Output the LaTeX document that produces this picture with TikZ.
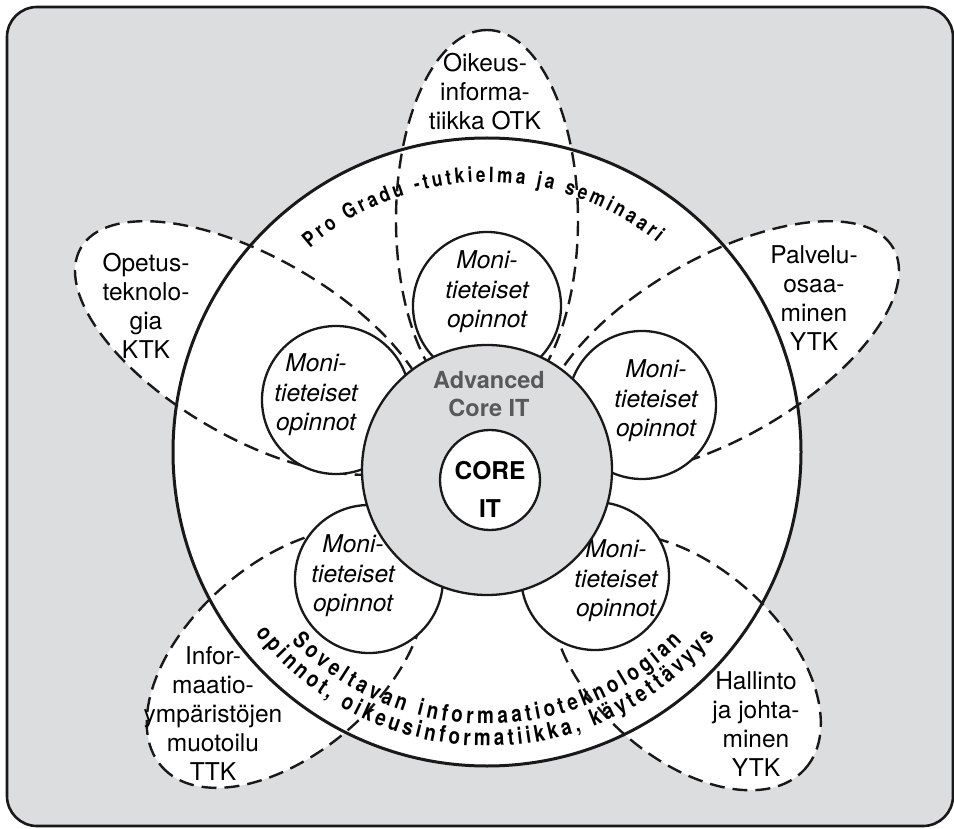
\documentclass[tikz,border=0pt]{standalone}
\usepackage{fontspec}
\setmainfont{TeX Gyre Heros}
\newfontfamily\arcfont[FakeStretch=0.82]{TeX Gyre Heros}
\usetikzlibrary{shapes, decorations.text, positioning}
\definecolor{panelgray}{HTML}{DCDDDF}
\definecolor{advgray}{HTML}{58595B}
\tikzset{
    x=1pt, y=1pt, % one unit is one pixel of the sketch
    frame/.style = {draw=black!90, line width=2.6pt, fill=panelgray, rounded corners=30pt},
    ring/.style = {circle, draw=black!90, line width=3pt, fill=white, minimum size=628pt, inner sep=0pt},
    moni/.style = {circle, draw=black!90, line width=2.3pt, fill=white, minimum size=148pt, inner sep=0pt},
    adv/.style = {circle, draw=black!90, line width=2.3pt, fill=panelgray, minimum size=250pt, inner sep=0pt},
    core/.style = {circle, draw=black!90, line width=2.3pt, fill=white, minimum size=100pt, inner sep=0pt},
    petal/.style = {draw=black!90, line width=2.4pt, dash pattern=on 15pt off 8pt},
    petaltext/.style = {align=center, font=\fontsize{24.5}{29}\selectfont},
    monitext/.style = {align=center, font=\fontsize{24.5}{29.5}\selectfont\itshape},
    advtext/.style = {align=center, text=advgray, font=\fontsize{23.5}{28}\selectfont\bfseries},
    coretext/.style = {align=center, font=\fontsize{24.5}{38}\selectfont\bfseries},
    arctext/.style = {decorate, decoration={text along path, text align={fit to path}, text={#1}}}
}
% one petal: options, centre, angle of the long axis, long radius, short radius
\newcommand\petal[5]{\path[#1, rotate around={#3:(#2)}] (#2) ellipse [x radius=#4, y radius=#5];}

\begin{document}
\begin{tikzpicture}
    \useasboundingbox (0,0) rectangle (954,-829);
    \path[frame] (7,-7) rectangle (953,-826);
    \coordinate (hub) at (487,-470);
    \coordinate (p1) at (487,-220);
    \coordinate (p2) at (254,-348);
    \coordinate (p3) at (720,-348);
    \coordinate (p4) at (286,-658);
    \coordinate (p5) at (686,-662);

    % white petals first, dashed rims after the ring
    \petal{fill=white}{p1}{90}{190}{91}
    \petal{fill=white}{p2}{150}{200}{90}
    \petal{fill=white}{p3}{30}{200}{90}
    \petal{fill=white}{p4}{221}{165}{95}
    \petal{fill=white}{p5}{-42}{160}{95}
    \node[ring] (ring) at (487,-452) {};
    \petal{petal}{p1}{90}{190}{91}
    \petal{petal}{p2}{150}{200}{90}
    \petal{petal}{p3}{30}{200}{90}
    \petal{petal}{p4}{221}{165}{95}
    \petal{petal}{p5}{-42}{160}{95}

    % texts round the ring
    \path[arctext={|\arcfont\bfseries\fontsize{21}{21}\selectfont|Pro Gradu -tutkielma ja seminaari}]
        (ring.center) ++(131:270) arc [start angle=131, end angle=51, radius=270];
    \path[arctext={|\arcfont\bfseries\fontsize{23}{23}\selectfont|Soveltavan informaatioteknologian}]
        (ring.center) ++(224:272) arc [start angle=224, end angle=316, radius=272];
    \path[arctext={|\arcfont\bfseries\fontsize{23}{23}\selectfont|opinnot, oikeusinformatiikka, käytettävyys}]
        (ring.center) ++(218:294) arc [start angle=218, end angle=321, radius=294];

    % petal labels
    \node[petaltext] (otk) at (485,-92) {Oikeus-\\informa-\\tiikka OTK};
    \node[petaltext] (ktk) at (146,-306) {Opetus-\\teknolo-\\gia\\KTK};
    \node[petaltext] (palv) at (814,-298) {Palvelu-\\osaa-\\minen\\YTK};
    \node[petaltext] (ttk) at (213,-714) {Infor-\\maatio-\\ympäristöjen\\muotoilu\\TTK};
    \node[petaltext] (hall) at (756,-724) {Hallinto\\ja johta-\\minen\\YTK};

    % the five Moni circles
    \node[moni] (m1) at (487,-306) {};
    \node[moni] (m2) at (336,-400) {};
    \node[moni] (m3) at (642,-405) {};
    \node[moni] (m4) at (369,-579) {};
    \node[moni] (m5) at (595,-576) {};
    \node[monitext] (t1) at (487,-292) {Moni-\\tieteiset\\opinnot};
    \node[monitext] (t2) at (316,-395) {Moni-\\tieteiset\\opinnot};
    \node[monitext] (t3) at (656,-401) {Moni-\\tieteiset\\opinnot};
    \node[monitext] (t4) at (353,-576) {Moni-\\tieteiset\\opinnot};
    \node[monitext] (t5) at (616,-581) {Moni-\\tieteiset\\opinnot};

    % core
    \node[adv] (adv) at (hub) {};
    \node[core] (core) at (490,-480) {};
    \node[advtext] (advlabel) at (489,-394) {Advanced\\Core IT};
    \node[coretext] (corelabel) at (490,-489) {CORE\\IT};
\end{tikzpicture}
\end{document}
